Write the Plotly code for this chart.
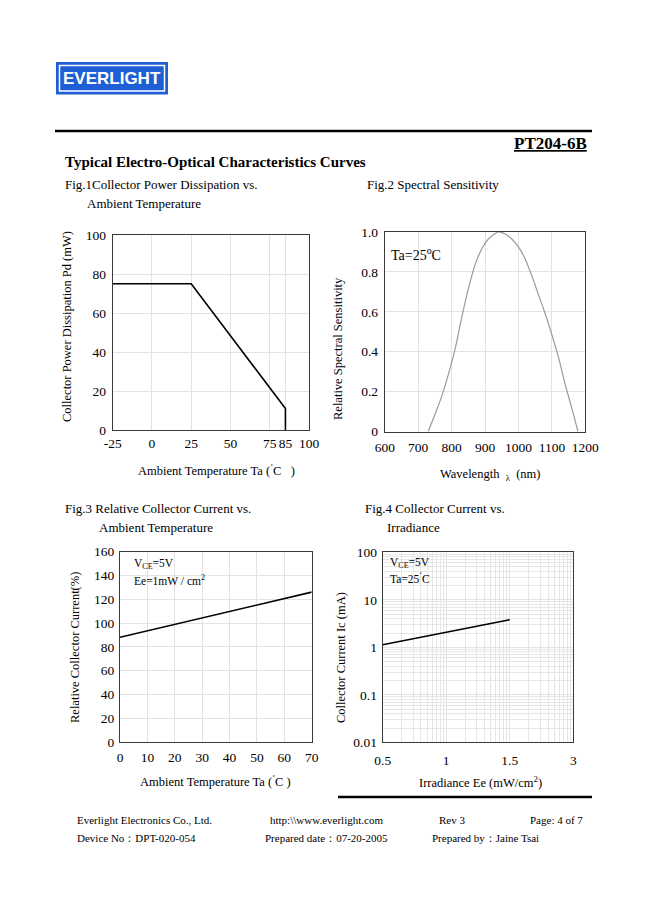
import plotly.graph_objects as go

W, H = 650, 919
OFF = 8                      # page body margin of the browser
FW, FH = W - OFF, H - OFF
SERIF = "Liberation Serif"

# ---------------- data ----------------
# Fig.1 Collector power dissipation vs ambient temperature
fig1_temp = [-25, 25, 85, 85]
fig1_pd = [75, 75, 11, 0]
fig1_xticks = [-25, 0, 25, 50, 75, 85, 100]
fig1_xticktext = ["-25", "0", "25", "50", "75", "85", "100"]

# Fig.2 Spectral sensitivity
fig2_wavelength = [730, 750, 770, 790, 810, 830, 850, 870, 890, 910, 930, 942,
                   960, 980, 1000, 1020, 1040, 1060, 1080, 1100, 1120, 1140, 1160, 1178]
fig2_sensitivity = [0.0, 0.085, 0.175, 0.285, 0.41, 0.57, 0.715, 0.835, 0.915, 0.965, 0.993, 1.0,
                    0.99, 0.965, 0.925, 0.865, 0.78, 0.685, 0.59, 0.485, 0.37, 0.235, 0.115, 0.0]
fig2_yticks = [0, 0.2, 0.4, 0.6, 0.8, 1.0]
fig2_yticktext = ["0", "0.2", "0.4", "0.6", "0.8", "1.0"]

# Fig.3 Relative collector current vs ambient temperature
fig3_temp = [0, 70]
fig3_rel_current = [88, 126]

# Fig.4 Collector current vs irradiance
fig4_xlabels = ["0.5", "1", "1.5", "3"]
fig4_irradiance = ["0.5", "1.5"]
fig4_ic = [1.13, 3.8]
fig4_yticks = [0.01, 0.1, 1, 10, 100]
fig4_yticktext = ["0.01", "0.1", "1", "10", "100"]


def px(x):
    return (x - OFF) / FW


def py(y):
    return 1 - (y - OFF) / FH


fig = go.Figure()

fig.add_trace(go.Scatter(x=fig1_temp, y=fig1_pd, mode="lines",
                         line=dict(color="black", width=1.6), xaxis="x", yaxis="y"))
fig.add_trace(go.Scatter(x=fig2_wavelength, y=fig2_sensitivity, mode="lines",
                         line=dict(color="#9a9a9a", width=1.2, shape="spline", smoothing=1.0),
                         xaxis="x2", yaxis="y2"))
fig.add_trace(go.Scatter(x=fig3_temp, y=fig3_rel_current, mode="lines",
                         line=dict(color="black", width=1.6), xaxis="x3", yaxis="y3"))
fig4_x = [10 ** fig4_xlabels.index(s) for s in fig4_irradiance]
fig.add_trace(go.Scatter(x=fig4_x, y=fig4_ic, mode="lines",
                         line=dict(color="black", width=1.6), xaxis="x4", yaxis="y4"))

tickfont = dict(family=SERIF, size=13.5, color="black")
common = dict(showline=True, mirror=True, linecolor="#3a3a3a", linewidth=1.2,
              showgrid=True, gridcolor="#e2e2e2", gridwidth=1, zeroline=False,
              ticks="", tickfont=tickfont, fixedrange=True, tickangle=0, automargin=False)

layout = dict(
    width=FW, height=FH, margin=dict(l=0, r=0, t=0, b=0, pad=0, autoexpand=False),
    paper_bgcolor="white", plot_bgcolor="white", showlegend=False,
    xaxis=dict(common, domain=[px(112.7), px(309)], range=[-25, 100],
               tickvals=fig1_xticks, ticktext=fig1_xticktext, anchor="y",
               ticklabelstandoff=1),
    yaxis=dict(common, domain=[py(430), py(235)], range=[0, 100], dtick=20,
               anchor="x", ticklabelstandoff=3),
    xaxis2=dict(common, domain=[px(384.8), px(585.3)], range=[600, 1200], dtick=100,
                anchor="y2", ticklabelstandoff=3),
    yaxis2=dict(common, domain=[py(431.5), py(232)], range=[0, 1.0],
                tickvals=fig2_yticks, ticktext=fig2_yticktext, anchor="x2",
                ticklabelstandoff=3),
    xaxis3=dict(common, domain=[px(120), px(311.7)], range=[0, 70], dtick=10,
                anchor="y3", ticklabelstandoff=3),
    yaxis3=dict(common, domain=[py(742), py(551.7)], range=[0, 160], dtick=20,
                anchor="x3", ticklabelstandoff=2),
    xaxis4=dict(common, type="log", domain=[px(382.7), px(573.3)], range=[0, 3],
                tickvals=[10 ** i for i in range(len(fig4_xlabels))], ticktext=fig4_xlabels,
                anchor="y4", ticklabelstandoff=5,
                minor=dict(showgrid=True, gridcolor="#e6e6e6", dtick="D1", ticks="")),
    yaxis4=dict(common, type="log", domain=[py(742.3), py(552.3)], range=[-2, 2],
                tickvals=fig4_yticks, ticktext=fig4_yticktext, anchor="x4",
                ticklabelstandoff=2,
                minor=dict(showgrid=True, gridcolor="#e6e6e6", dtick="D1", ticks="")),
)

shapes = []
blue = "#1f5fd6"
# logo
shapes.append(dict(type="rect", xref="paper", yref="paper", x0=px(56), x1=px(168),
                   y0=py(94.5), y1=py(62), fillcolor=blue, line=dict(width=0)))
shapes.append(dict(type="rect", xref="paper", yref="paper", x0=px(59.5), x1=px(164.5),
                   y0=py(91), y1=py(65.5), line=dict(color="white", width=1.5)))
# rules
shapes.append(dict(type="line", xref="paper", yref="paper", x0=px(55), x1=px(592),
                   y0=py(131), y1=py(131), line=dict(color="black", width=2.6)))
shapes.append(dict(type="line", xref="paper", yref="paper", x0=px(338), x1=px(592),
                   y0=py(797), y1=py(797), line=dict(color="black", width=2.6)))
layout["shapes"] = shapes

ann = []


def text(x, y, s, size=13, xanchor="left", bold=False, angle=0, color="black", family=SERIF):
    if bold:
        s = "<b>" + s + "</b>"
    ann.append(dict(x=px(x), y=py(y), xref="paper", yref="paper", text=s, showarrow=False,
                    xanchor=xanchor, yanchor="middle", textangle=angle,
                    font=dict(family=family, size=size, color=color)))


text(112, 78.5, "EVERLIGHT", size=17, xanchor="center", bold=True, color="white",
     family="Liberation Sans")
text(589, 143, "<u>PT204-6B</u>", size=17, xanchor="right", bold=True)
text(63, 162, "Typical Electro-Optical Characteristics Curves", size=15, bold=True)
text(63, 184, "Fig.1Collector Power Dissipation vs.", size=13)
text(85, 204, "Ambient Temperature", size=13)
text(365, 184, "Fig.2 Spectral Sensitivity", size=13)
text(63, 508, "Fig.3 Relative Collector Current vs.", size=13)
text(97, 527, "Ambient Temperature", size=13)
text(363, 508, "Fig.4 Collector Current vs.", size=13)
text(385, 527, "Irradiance", size=13)

# axis titles
text(67, 327, "Collector Power Dissipation Pd (mW)", size=12.5, xanchor="center", angle=-90)
text(216, 470, "Ambient Temperature Ta (<sup>˚</sup>C\u00a0\u00a0\u00a0)", size=12.5, xanchor="center")
text(338, 348, "Relative Spectral Sensitivity", size=12.5, xanchor="center", angle=-90)
text(490, 475, "Wavelength\u00a0\u00a0<sub>λ</sub>\u00a0\u00a0(nm)", size=12.5, xanchor="center")
text(75, 648, "Relative Collector Current(%)", size=12.5, xanchor="center", angle=-90)
text(215.5, 781, "Ambient Temperature Ta (<sup>˚</sup>C )", size=12.5, xanchor="center")
text(341, 658, "Collector Current Ic (mA)", size=12.5, xanchor="center", angle=-90)
text(480, 782, "Irradiance Ee (mW/cm<sup>2</sup>)", size=12.5, xanchor="center")

# in-plot notes
text(389, 254, "Ta=25<sup>o</sup>C", size=14)
text(132, 564, "V<sub>CE</sub>=5V", size=11.5)
text(132, 580, "Ee=1mW / cm<sup>2</sup>", size=11.5)
text(388, 562.5, "V<sub>CE</sub>=5V", size=11.5)
text(388, 577.5, "Ta=25<sup>˚</sup>C", size=11.5)

# footer
text(75, 820, "Everlight Electronics Co., Ltd.", size=11)
text(268, 820, "http:\\\\www.everlight.com", size=11)
text(437, 820, "Rev 3", size=11)
text(528, 820, "Page: 4 of 7", size=11)
text(75, 838, "Device No：DPT-020-054", size=11)
text(263, 838, "Prepared date：07-20-2005", size=11)
text(430, 838, "Prepared by：Jaine Tsai", size=11)

layout["annotations"] = ann
fig.update_layout(layout)
fig.write_html("out.html")
